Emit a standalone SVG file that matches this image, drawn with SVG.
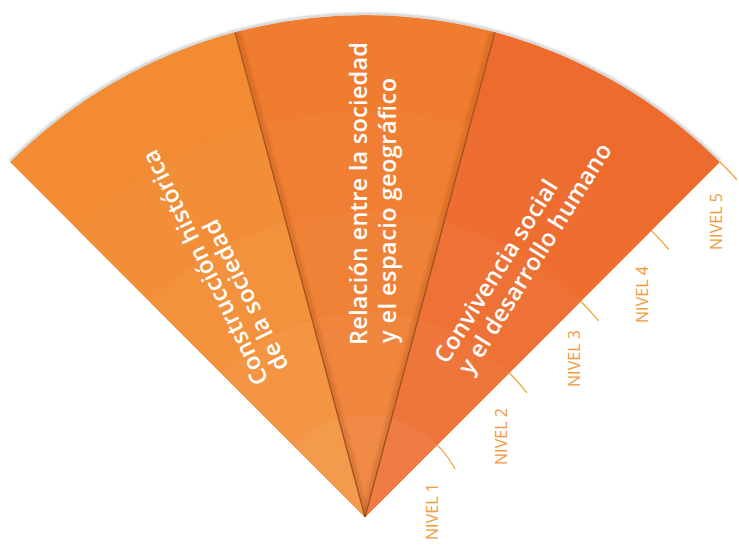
<svg xmlns="http://www.w3.org/2000/svg" width="739" height="545" viewBox="0 0 739 545">
<defs>
<style>
.lbl{font-family:"Open Sans","Liberation Sans",sans-serif;font-weight:600;font-size:23.5px;fill:#ffffff}
.niv{font-family:"Open Sans","Liberation Sans",sans-serif;font-weight:400;font-size:16px;fill:#f29a3c}
.tick{fill:none;stroke:#eea437;stroke-width:1.3}
.div{fill:none;stroke:#93461a;stroke-width:1.4;stroke-opacity:0.8}
.divsh{fill:none;stroke:#8a3a10;stroke-width:5;stroke-opacity:0.22;filter:url(#blur)}
</style>
<filter id="blur" x="-50%" y="-10%" width="200%" height="120%"><feGaussianBlur stdDeviation="1.5"/></filter>
<filter id="blur2" x="-10%" y="-10%" width="120%" height="120%"><feGaussianBlur stdDeviation="1.2"/></filter>
<clipPath id="cL"><path d="M365 517 L10 162 A502 502 0 0 1 235.1 32.1 Z"/></clipPath>
<clipPath id="cM"><path d="M365 517 L235.1 32.1 A502 502 0 0 1 494.9 32.1 Z"/></clipPath>
<clipPath id="cR"><path d="M365 517 L494.9 32.1 A502 502 0 0 1 720 162 Z"/></clipPath>
</defs>
<rect width="739" height="545" fill="#ffffff"/>
<path d="M10 161 A502 502 0 0 1 720 161" fill="none" stroke="#7a7a7a" stroke-width="2.5" stroke-opacity="0.4" filter="url(#blur2)"/>

<g id="wedge-construccion">
<g clip-path="url(#cL)">
<circle cx="365" cy="517" r="502" fill="#f28b32"/>
<circle cx="365" cy="517" r="405" fill="#f28e37"/>
<circle cx="365" cy="517" r="305" fill="#f3913c"/>
<circle cx="365" cy="517" r="204" fill="#f39543"/>
<circle cx="365" cy="517" r="102" fill="#f39a4d"/>
</g>
<text class="lbl" transform="translate(269,380) rotate(-116)" textLength="258" lengthAdjust="spacing">Construcción histórica</text>
<text class="lbl" transform="translate(289,366) rotate(-116)" textLength="165" lengthAdjust="spacing">de la sociedad</text>
</g>

<g id="wedge-relacion">
<g clip-path="url(#cM)">
<circle cx="365" cy="517" r="502" fill="#f07c2f"/>
<circle cx="365" cy="517" r="405" fill="#f07f33"/>
<circle cx="365" cy="517" r="305" fill="#f08238"/>
<circle cx="365" cy="517" r="204" fill="#f0853e"/>
<circle cx="365" cy="517" r="102" fill="#f08a46"/>
</g>
<text class="lbl" transform="translate(367,345) rotate(-90)" textLength="303" lengthAdjust="spacing">Relación entre la sociedad</text>
<text class="lbl" transform="translate(396,343) rotate(-90)" textLength="265" lengthAdjust="spacing">y el espacio geográfico</text>
</g>

<g id="wedge-convivencia">
<g clip-path="url(#cR)">
<circle cx="365" cy="517" r="502" fill="#ed6b2c"/>
<circle cx="365" cy="517" r="405" fill="#ed6e30"/>
<circle cx="365" cy="517" r="305" fill="#ee7235"/>
<circle cx="365" cy="517" r="204" fill="#ee763b"/>
<circle cx="365" cy="517" r="102" fill="#ef7c43"/>
</g>
<text class="lbl" transform="translate(447,365) rotate(-58)" textLength="211" lengthAdjust="spacing">Convivencia social</text>
<text class="lbl" transform="translate(471,376) rotate(-58)" textLength="267" lengthAdjust="spacing">y el desarrollo humano</text>
</g>

<g id="dividers">
<g clip-path="url(#cM)">
<path class="divsh" d="M367 517 L238 32"/>
<path class="divsh" d="M363 517 L492 32"/>
</g>
<path class="div" d="M365 517 L235.1 32.1"/>
<path class="div" d="M365 517 L494.9 32.1"/>
</g>

<g id="levels">
<path class="tick" d="M437.1 444.9 A102 102 0 0 1 455.1 469.2"/>
<path class="tick" d="M509.3 372.7 A204 204 0 0 1 526.9 392.8"/>
<path class="tick" d="M580.7 301.3 A305 305 0 0 1 598.6 320.9"/>
<path class="tick" d="M651.4 230.6 A405 405 0 0 1 668.8 249.2"/>
<path class="tick" d="M720 162 A502 502 0 0 1 736.9 179.8"/>
<text class="niv" transform="translate(438,540) rotate(-90)" textLength="57" lengthAdjust="spacing">NIVEL 1</text>
<text class="niv" transform="translate(507,465) rotate(-90)" textLength="57" lengthAdjust="spacing">NIVEL 2</text>
<text class="niv" transform="translate(580,387) rotate(-90)" textLength="57" lengthAdjust="spacing">NIVEL 3</text>
<text class="niv" transform="translate(648,323) rotate(-90)" textLength="57" lengthAdjust="spacing">NIVEL 4</text>
<text class="niv" transform="translate(722,250) rotate(-90)" textLength="57" lengthAdjust="spacing">NIVEL 5</text>
</g>
</svg>
